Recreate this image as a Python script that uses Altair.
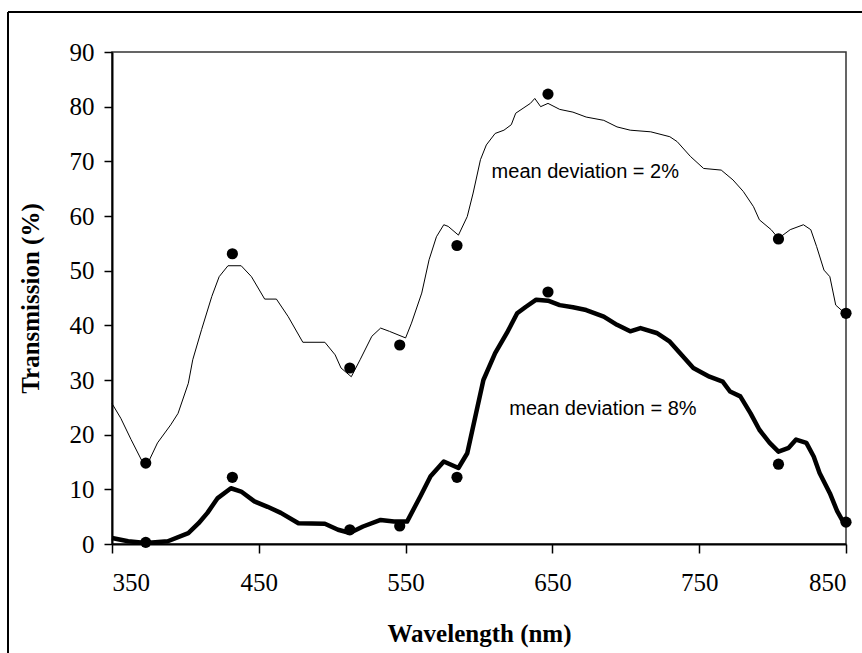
import altair as alt
import pandas as pd

# thin curve (mean deviation = 2%)
thin_x = [350, 356, 363, 370, 375, 381, 390, 395, 402, 405, 411, 418, 423, 429, 438, 445, 454, 462,
          470, 480, 495, 502, 506, 513, 519, 527, 533, 539, 550, 554, 561, 566, 571, 576, 579, 586,
          592, 596, 601, 605, 611, 617, 622, 625, 630, 635, 638, 642, 647, 655, 664, 673, 685, 694,
          703, 717, 730, 735, 744, 753, 765, 773, 780, 787, 791, 799, 804, 812, 821, 826, 830, 835,
          839, 843, 848, 850]
thin_y = [25.7, 23.0, 19.1, 15.4, 15.1, 18.5, 21.8, 23.9, 29.4, 33.7, 39.2, 45.3, 48.9, 50.9, 50.9,
          48.9, 44.8, 44.8, 41.6, 36.9, 36.9, 34.6, 32.2, 30.6, 33.7, 38.0, 39.5, 38.9, 37.7, 40.4,
          45.9, 52.0, 56.2, 58.4, 58.1, 56.5, 59.9, 64.2, 70.3, 73.0, 75.1, 75.7, 76.7, 78.8, 79.7,
          80.6, 81.5, 80.0, 80.6, 79.5, 79.0, 78.1, 77.5, 76.3, 75.7, 75.4, 74.5, 73.6, 70.9, 68.7,
          68.4, 66.6, 64.5, 61.7, 59.3, 57.5, 55.9, 57.5, 58.4, 57.5, 54.4, 50.1, 48.9, 43.7, 42.5,
          42.2]

# thick curve (mean deviation = 8%)
thick_x = [350, 361, 373, 388, 402, 409, 415, 422, 431, 438, 447, 456, 465, 477, 495, 504, 511, 514,
           521, 533, 542, 551, 560, 567, 576, 586, 592, 598, 603, 611, 619, 626, 632, 639, 647, 655,
           664, 673, 685, 694, 703, 710, 721, 730, 737, 746, 757, 766, 771, 778, 785, 791, 798, 804,
           811, 816, 823, 828, 832, 839, 844, 848, 850]
thick_y = [1.1, 0.5, 0.2, 0.5, 2.0, 3.8, 5.7, 8.4, 10.2, 9.6, 7.8, 6.8, 5.7, 3.8, 3.7, 2.6, 2.1, 2.3,
           3.2, 4.4, 4.1, 4.1, 8.7, 12.4, 15.1, 13.9, 16.6, 23.9, 30.0, 34.9, 38.6, 42.2, 43.4, 44.7,
           44.5, 43.7, 43.3, 42.8, 41.6, 40.1, 38.9, 39.5, 38.6, 37.0, 34.9, 32.2, 30.6, 29.7, 27.9,
           27.0, 23.9, 20.9, 18.5, 16.9, 17.6, 19.1, 18.5, 16.0, 13.0, 9.3, 6.0, 4.1, 3.9]

# measured points
dot_x = [373, 432, 512, 546, 585, 647, 804, 850]
dot_thin = [14.8, 53.1, 32.2, 36.4, 54.6, 82.3, 55.8, 42.2]
dot_thick = [0.3, 12.2, 2.6, 3.3, 12.2, 46.1, 14.6, 4.0]

ann_text = ["mean deviation = 2%", "mean deviation = 8%"]
ann_x = [608.6, 620.6]
ann_y = [66.9, 23.6]

thin_df = pd.DataFrame({"wl": thin_x, "t": thin_y})
thick_df = pd.DataFrame({"wl": thick_x, "t": thick_y})
dots_df = pd.DataFrame({"wl": dot_x + dot_x, "t": dot_thin + dot_thick})
ann_df = pd.DataFrame({"wl": ann_x, "t": ann_y, "label": ann_text})

xscale = alt.Scale(domain=[350, 850], nice=False, zero=False)
yscale = alt.Scale(domain=[0, 90], nice=False)

xaxis = alt.Axis(values=[350, 450, 550, 650, 750, 850], title="Wavelength (nm)", grid=False,
                 tickSize=9, labelPadding=17, titleY=89, titleBaseline="middle")
yaxis = alt.Axis(values=list(range(0, 91, 10)), title="Transmission (%)", grid=False,
                 tickSize=8, labelPadding=10, titleX=-82, titleY=246, titleBaseline="middle",
                 titleAngle=-90, titleAlign="center")

base = alt.Chart(thin_df)

thin = base.mark_line(color="black", strokeWidth=1).encode(
    x=alt.X("wl:Q", scale=xscale, axis=xaxis),
    y=alt.Y("t:Q", scale=yscale, axis=yaxis),
)
thick = alt.Chart(thick_df).mark_line(color="black", strokeWidth=4.5, strokeJoin="round").encode(
    x=alt.X("wl:Q", scale=xscale),
    y=alt.Y("t:Q", scale=yscale),
)
dots = alt.Chart(dots_df).mark_circle(color="black", size=125, opacity=1).encode(
    x=alt.X("wl:Q", scale=xscale),
    y=alt.Y("t:Q", scale=yscale),
)
ann = alt.Chart(ann_df).mark_text(align="left", baseline="alphabetic", font="Liberation Sans",
                                  fontSize=20, color="black").encode(
    x=alt.X("wl:Q", scale=xscale),
    y=alt.Y("t:Q", scale=yscale),
    text="label:N",
)
border_left = alt.Chart(thin_df).mark_rule(color="black", strokeWidth=1.2).encode(
    x=alt.value(-104), y=alt.value(-40), y2=alt.value(700))
border_top = alt.Chart(thin_df).mark_rule(color="black", strokeWidth=1.2).encode(
    x=alt.value(-104), x2=alt.value(900), y=alt.value(-40))

chart = alt.layer(border_left, border_top, thin, thick, dots, ann).properties(
    width=734, height=492,
    autosize=alt.AutoSizeParams(type="none"),
    padding={"left": 112, "top": 52, "right": 16, "bottom": 109},
    background="white",
).configure_view(
    stroke="#333333", strokeWidth=1.5
).configure_axis(
    labelFont="Liberation Serif", labelFontSize=25, labelColor="black",
    titleFont="Liberation Serif", titleFontSize=25, titleFontWeight="bold", titleColor="black",
    domainColor="black", domainWidth=2, tickColor="black", tickWidth=1.5,
)

chart.save("out.html", embed_options={"renderer": "svg", "actions": False})
